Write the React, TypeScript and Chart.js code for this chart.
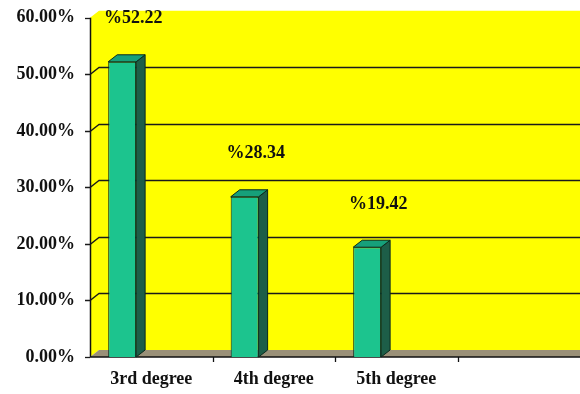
import React, { useEffect, useRef } from "react";
import { Chart, registerables } from "chart.js";

Chart.register(...registerables);

const categories = ["3rd degree", "4th degree", "5th degree", ""];
const percentValues = [52.22, 28.34, 19.42, null];
const valueLabels = ["%52.22", "%28.34", "%19.42", ""];
const yTicks = [0, 10, 20, 30, 40, 50, 60];

const DX = 9;
const DY = 7;
const FONT = "'Liberation Serif', serif";

const threeD = {
  id: "threeD",
  beforeDatasetsDraw(chart: any) {
    const { ctx, chartArea } = chart;
    const y = chart.scales.y;
    const { left, right, top, bottom } = chartArea;
    ctx.save();
    // back wall + side wall
    ctx.fillStyle = "#FFFF00";
    ctx.beginPath();
    ctx.moveTo(left, top);
    ctx.lineTo(left + DX, top - DY);
    ctx.lineTo(right, top - DY);
    ctx.lineTo(right, bottom - DY);
    ctx.lineTo(left + DX, bottom - DY);
    ctx.lineTo(left, bottom);
    ctx.closePath();
    ctx.fill();
    // floor
    ctx.fillStyle = "#9a9078";
    ctx.beginPath();
    ctx.moveTo(left, bottom);
    ctx.lineTo(left + DX, bottom - DY);
    ctx.lineTo(right, bottom - DY);
    ctx.lineTo(right, bottom);
    ctx.closePath();
    ctx.fill();
    // gridlines
    ctx.strokeStyle = "#1a1a1a";
    ctx.lineWidth = 1.3;
    yTicks.forEach((v) => {
      if (v === 0 || v === 60) return;
      const py = Math.round(y.getPixelForValue(v)) + 0.5;
      ctx.beginPath();
      ctx.moveTo(left - 5, py);
      ctx.lineTo(left, py);
      ctx.lineTo(left + DX, py - DY);
      ctx.lineTo(right, py - DY);
      ctx.stroke();
    });
    [0, 60].forEach((v) => {
      const py = Math.round(y.getPixelForValue(v)) + 0.5;
      ctx.beginPath();
      ctx.moveTo(left - 5, py);
      ctx.lineTo(left, py);
      ctx.stroke();
    });
    // axes
    ctx.strokeStyle = "#111";
    ctx.lineWidth = 1.5;
    ctx.beginPath();
    ctx.moveTo(left + 0.5, top);
    ctx.lineTo(left + 0.5, bottom);
    ctx.lineTo(right, bottom);
    ctx.stroke();
    // x ticks at category boundaries
    const n = categories.length;
    const w = (right - left) / n;
    ctx.lineWidth = 1.3;
    for (let i = 1; i < n; i++) {
      const px = Math.round(left + w * i) + 0.5;
      ctx.beginPath();
      ctx.moveTo(px, bottom);
      ctx.lineTo(px, bottom + 5);
      ctx.stroke();
    }
    ctx.restore();
  },
  afterDatasetsDraw(chart: any) {
    const { ctx } = chart;
    const meta = chart.getDatasetMeta(0);
    ctx.save();
    meta.data.forEach((bar: any, i: number) => {
      const v = percentValues[i];
      if (v == null) return;
      const half = bar.width / 2;
      const l = bar.x - half;
      const r = bar.x + half;
      const t = bar.y;
      const b = bar.base;
      ctx.lineWidth = 1;
      ctx.strokeStyle = "#0a2a1e";
      // side
      ctx.fillStyle = "#1d5e48";
      ctx.beginPath();
      ctx.moveTo(r, t);
      ctx.lineTo(r + DX, t - DY);
      ctx.lineTo(r + DX, b - DY);
      ctx.lineTo(r, b);
      ctx.closePath();
      ctx.fill();
      ctx.stroke();
      // top
      ctx.fillStyle = "#16a07a";
      ctx.beginPath();
      ctx.moveTo(l, t);
      ctx.lineTo(l + DX, t - DY);
      ctx.lineTo(r + DX, t - DY);
      ctx.lineTo(r, t);
      ctx.closePath();
      ctx.fill();
      ctx.stroke();
      // value labels
      ctx.fillStyle = "#111";
      ctx.font = `bold 18px ${FONT}`;
      ctx.textAlign = "center";
      ctx.textBaseline = "middle";
      ctx.fillText(valueLabels[i], bar.x + 11, t - 43);
    });
    ctx.restore();
  },
};

export default function App() {
  const ref = useRef<HTMLCanvasElement>(null);
  useEffect(() => {
    document.body.style.margin = "0";
    const chart = new Chart(ref.current!, {
      type: "bar",
      data: {
        labels: categories,
        datasets: [
          {
            data: percentValues as any,
            backgroundColor: "#1cc48e",
            borderColor: "#0a2a1e",
            borderWidth: 1,
            borderSkipped: "bottom",
            categoryPercentage: 0.95,
            barPercentage: 0.48,
          },
          {
            data: [null, null, null, null] as any,
            backgroundColor: "transparent",
            categoryPercentage: 0.95,
            barPercentage: 0.48,
          },
        ],
      },
      plugins: [threeD],
      options: {
        animation: false,
        responsive: false,
        maintainAspectRatio: false,
        layout: { padding: { top: 15, right: 0, left: 0, bottom: 0 } },
        plugins: {
          legend: { display: false },
          tooltip: { enabled: false },
        },
        scales: {
          x: {
            grid: { display: false },
            border: { display: false },
            ticks: {
              color: "#111",
              font: { family: FONT, weight: "bold", size: 18 },
              padding: 4,
              maxRotation: 0,
              autoSkip: false,
            },
            afterFit: (s: any) => {
              s.height = 37;
            },
          },
          y: {
            min: 0,
            max: 60,
            grid: { display: false },
            border: { display: false },
            ticks: {
              stepSize: 10,
              color: "#111",
              font: { family: FONT, weight: "bold", size: 18 },
              padding: 7,
              callback: (v: any) => Number(v).toFixed(2) + "%",
            },
            afterFit: (s: any) => {
              s.width = 90;
            },
          },
        },
      },
    });
    return () => chart.destroy();
  }, []);
  return (
    <div style={{ width: 580, height: 394, background: "#fff" }}>
      <canvas ref={ref} width={580} height={394} style={{ display: "block" }} />
    </div>
  );
}
